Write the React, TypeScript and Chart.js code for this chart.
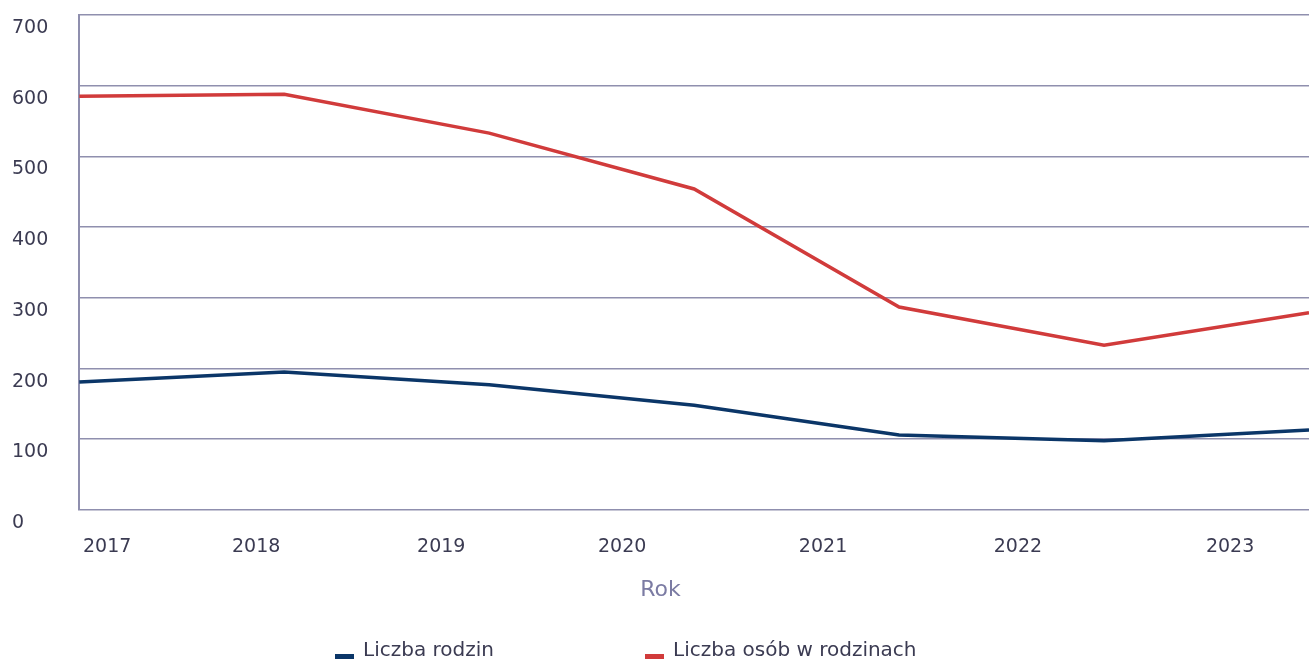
import React, { useEffect, useRef } from "react";
import { Chart, registerables } from "chart.js";

Chart.register(...registerables);

// ---- data ----
const years = ["2017", "2018", "2019", "2020", "2021", "2022", "2023"];
const familiesCount = [181, 195, 177, 148, 106, 98, 113];
const personsInFamilies = [585, 588, 533, 454, 287, 233, 279];
const seriesNames = ["Liczba rodzin", "Liczba osób w rodzinach"];
const yMin = 0;
const yMax = 700;
const yStep = 100;
const xAxisTitle = "Rok";

// ---- layout / style (not data) ----
const FONT = '"DejaVu Sans", sans-serif';
const TEXT = "#3b3b52";
const GRID = "#8f8fae";
const TITLE = "#7b7ba3";
const BLUE = "#0b3668";
const RED = "#d13b3b";
// where the year labels sit along the axis (in category units), as in the reference
const yearLabelSlots = [0.136, 0.863, 1.766, 2.649, 3.629, 4.58, 5.615];
const legendItemX = [335, 645];

const legendPlugin = {
  id: "bottomLegend",
  afterDraw(chart: any) {
    const ctx = chart.ctx;
    ctx.save();
    ctx.font = `20px ${FONT}`;
    ctx.textBaseline = "alphabetic";
    ctx.textAlign = "left";
    chart.data.datasets.forEach((ds: any, i: number) => {
      const x = legendItemX[i];
      ctx.fillStyle = ds.borderColor;
      ctx.fillRect(x, 654, 19, 5);
      ctx.fillStyle = TEXT;
      ctx.fillText(ds.label, x + 28, 656);
    });
    ctx.restore();
  },
};

const noEdgePadding = (axis: any) => {
  axis.paddingLeft = 0;
  axis.paddingRight = 0;
  axis.paddingTop = 0;
  axis.paddingBottom = 0;
};

export default function App() {
  const canvasRef = useRef<HTMLCanvasElement | null>(null);

  useEffect(() => {
    if (!canvasRef.current) return;
    Chart.defaults.font.family = FONT;
    const chart = new Chart(canvasRef.current, {
      type: "line",
      data: {
        labels: years,
        datasets: [
          {
            label: seriesNames[0],
            data: familiesCount,
            borderColor: BLUE,
            backgroundColor: BLUE,
            borderWidth: 3.5,
            pointRadius: 0,
            tension: 0,
            xAxisID: "x",
          },
          {
            label: seriesNames[1],
            data: personsInFamilies,
            borderColor: RED,
            backgroundColor: RED,
            borderWidth: 3.5,
            pointRadius: 0,
            tension: 0,
            xAxisID: "x",
          },
        ],
      },
      options: {
        animation: false,
        responsive: true,
        maintainAspectRatio: false,
        layout: { padding: { left: 12, top: 15, right: 0, bottom: 58 } },
        plugins: {
          legend: { display: false },
          tooltip: { enabled: false },
          title: {
            display: true,
            position: "bottom",
            text: xAxisTitle,
            color: TITLE,
            font: { size: 22, family: FONT, weight: "normal", lineHeight: 1.1 },
            padding: { top: -7, bottom: 0 },
          },
        },
        scales: {
          x: {
            type: "category",
            display: false,
            offset: false,
          },
          xl: {
            type: "linear",
            position: "bottom",
            min: 0,
            max: years.length - 1,
            afterBuildTicks: (axis: any) => {
              axis.ticks = yearLabelSlots.map((v) => ({ value: v }));
            },
            afterFit: noEdgePadding,
            grid: { display: false, drawTicks: false },
            border: { display: false },
            ticks: {
              autoSkip: false,
              maxRotation: 0,
              padding: 26,
              color: TEXT,
              font: { size: 19, family: FONT },
              callback: (_v: any, i: number) => years[i],
            },
          },
          y: {
            min: yMin,
            max: yMax,
            afterFit: noEdgePadding,
            ticks: {
              stepSize: yStep,
              padding: 15.5,
              labelOffset: 13,
              crossAlign: "far",
              color: TEXT,
              font: { size: 19, family: FONT },
            },
            grid: { color: GRID, lineWidth: 1.6, drawTicks: false },
            border: { color: GRID, width: 2 },
          },
        },
      },
      plugins: [legendPlugin],
    } as any);
    return () => chart.destroy();
  }, []);

  return (
    <div
      style={{
        position: "fixed",
        left: 0,
        top: 0,
        width: 1309,
        height: 660,
        background: "#fff",
      }}
    >
      <canvas ref={canvasRef} />
    </div>
  );
}
